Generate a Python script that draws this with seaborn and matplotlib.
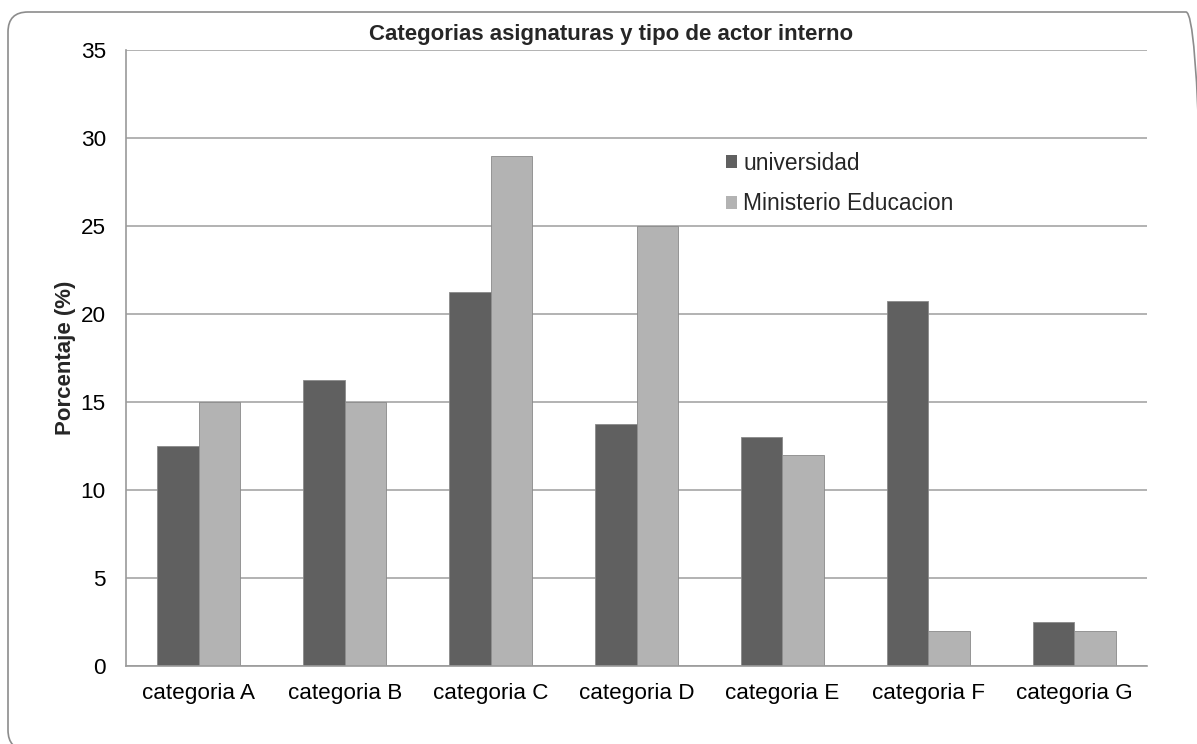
import matplotlib
matplotlib.use("Agg")
import matplotlib.pyplot as plt
import seaborn as sns
import pandas as pd
from matplotlib.patches import FancyBboxPatch
from matplotlib.transforms import IdentityTransform

# data
categorias = ["categoria A", "categoria B", "categoria C", "categoria D",
              "categoria E", "categoria F", "categoria G"]
universidad = [12.5, 16.25, 21.25, 13.75, 13.0, 20.75, 2.5]
ministerio = [15.0, 15.0, 29.0, 25.0, 12.0, 2.0, 2.0]
series = ["universidad", "Ministerio Educacion"]

df = pd.DataFrame({
    "categoria": categorias * 2,
    "valor": universidad + ministerio,
    "actor": [series[0]] * len(categorias) + [series[1]] * len(categorias),
})

sns.set_style("white")
plt.rcParams["font.family"] = ["Liberation Sans", "DejaVu Sans"]

fig = plt.figure(figsize=(11.97, 7.44), dpi=100)
ax = fig.add_axes([126 / 1197, 1 - 666 / 744, (1147 - 126) / 1197, (666 - 50) / 744])

# rounded frame around the whole chart (pixel coords, runs off right/bottom edge)
frame = FancyBboxPatch((8, -6), 1198, 738,
                       boxstyle="round,pad=0,rounding_size=20",
                       transform=IdentityTransform(), facecolor="none",
                       edgecolor="#8c8c8c", linewidth=1.2)
fig.patches.append(frame)

sns.barplot(data=df, x="categoria", y="valor", hue="actor", ax=ax,
            palette=["#606060", "#b3b3b3"], width=0.57, saturation=1,
            edgecolor="#8a8a8a", linewidth=0.6)

ax.set_ylim(0, 35)
ax.set_yticks(range(0, 36, 5))
ax.set_xlim(-0.5, len(categorias) - 0.5)
ax.yaxis.grid(True, color="#a6a6a6", linewidth=1.2)
ax.set_axisbelow(True)
for s in ["top", "right"]:
    ax.spines[s].set_visible(False)
for s in ["left", "bottom"]:
    ax.spines[s].set_color("#9a9a9a")
    ax.spines[s].set_linewidth(1.2)
ax.tick_params(axis="both", length=0, labelsize=16.2, colors="black")
ax.tick_params(axis="y", pad=14.5)
ax.tick_params(axis="x", pad=12)

ax.set_xlabel("")
ax.set_ylabel("Porcentaje (%)", fontsize=16, fontweight="bold", labelpad=3)
ax.set_title("Categorias asignaturas y tipo de actor interno",
             fontsize=16, fontweight="bold", pad=7, x=0.4755)

leg = ax.legend(loc="upper left", bbox_to_anchor=(0.588, 0.835), frameon=False,
                fontsize=16.4, handlelength=0.48, handleheight=0.48,
                handletextpad=0.26, labelspacing=0.78, borderaxespad=0,
                borderpad=0)
for h in leg.legend_handles:
    h.set_edgecolor("none")

fig.savefig("out.png", dpi=100, facecolor="white")
